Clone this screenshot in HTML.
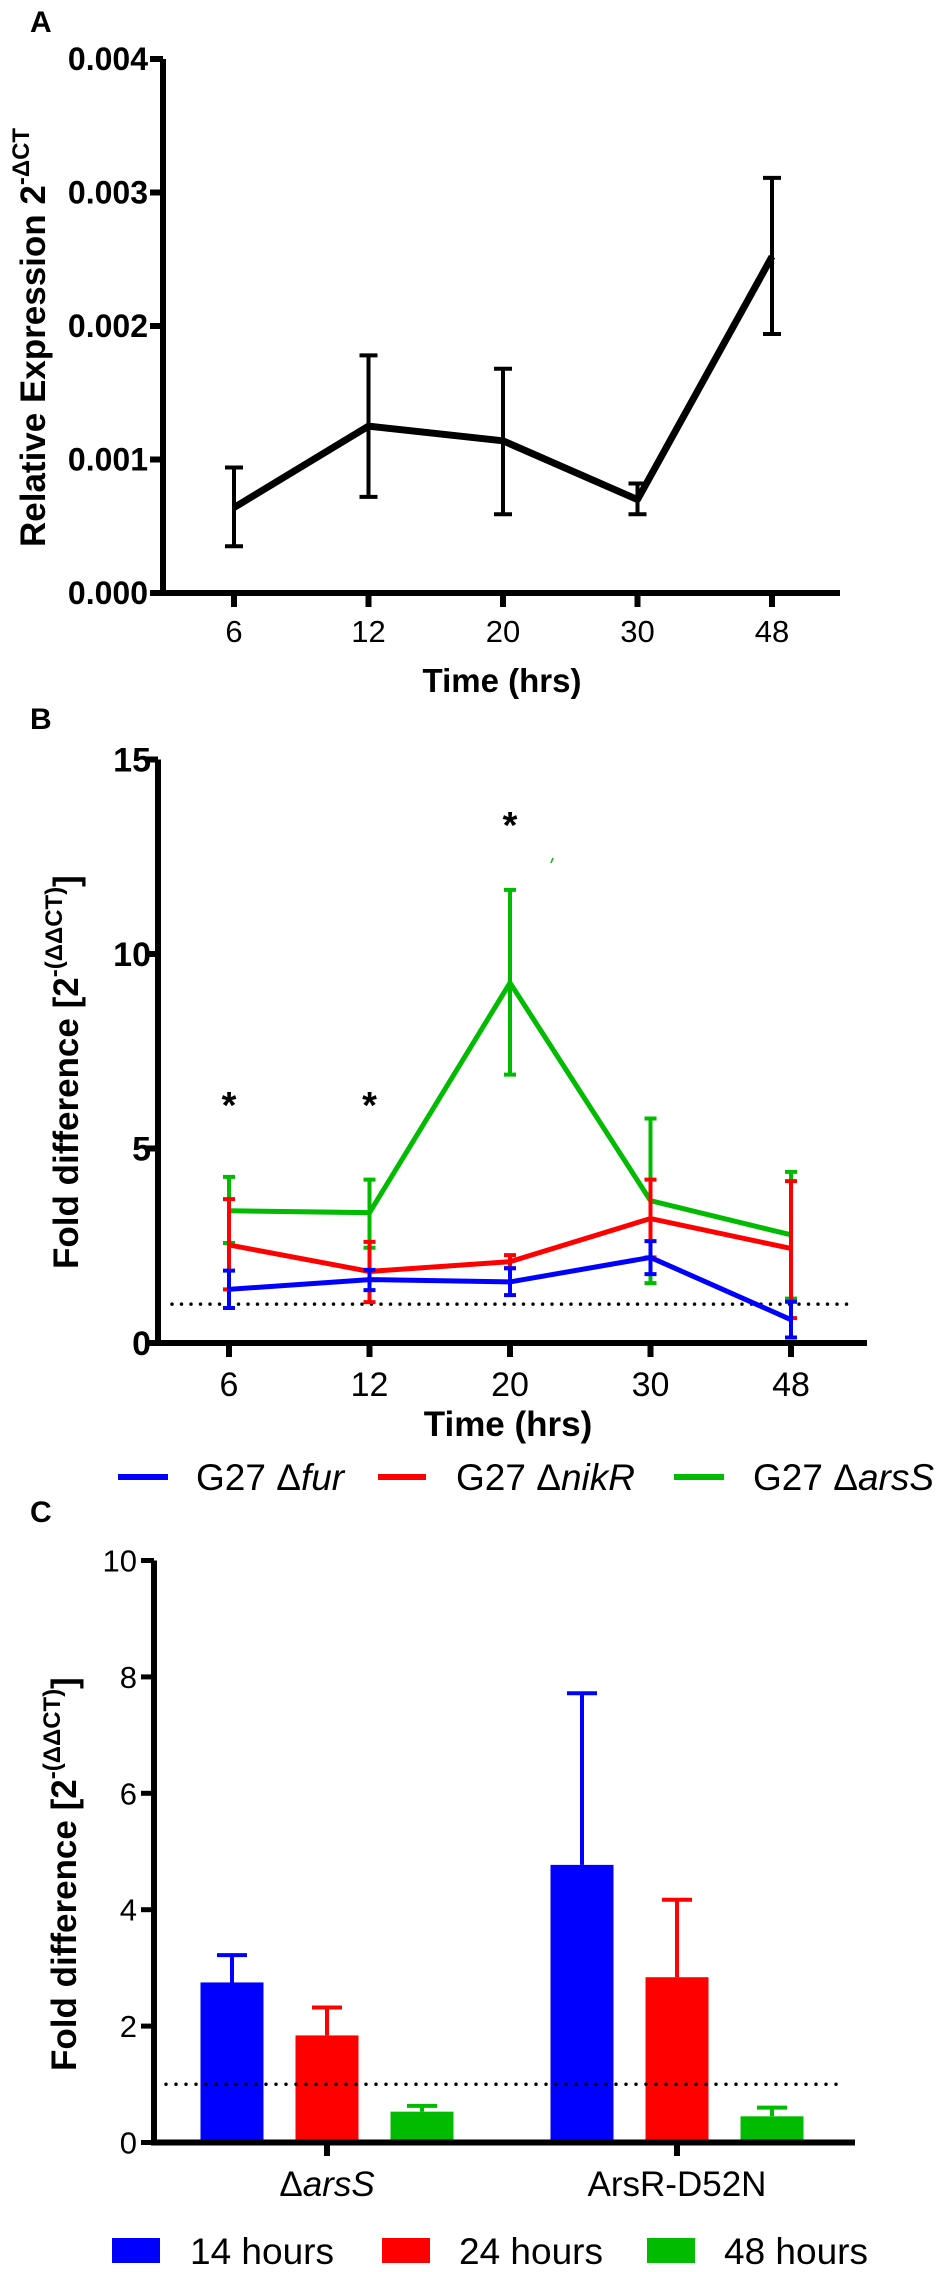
<!DOCTYPE html>
<html><head><meta charset="utf-8"><style>html,body{margin:0;padding:0;background:#fff}svg{display:block}text{font-family:"Liberation Sans",sans-serif}</style></head>
<body>
<svg id="fig" width="948" height="2272" viewBox="0 0 948 2272" xmlns="http://www.w3.org/2000/svg">
<text x="30" y="32" font-size="30" font-weight="bold">A</text>
<text transform="translate(45,547) rotate(-90)" font-size="35" font-weight="bold">Relative Expression 2<tspan font-size="24" dy="-16">-ΔCT</tspan></text>
<text x="502" y="692" font-size="33" font-weight="bold" text-anchor="middle">Time (hrs)</text>
<text x="30" y="729" font-size="30" font-weight="bold">B</text>
<text transform="translate(78,1269) rotate(-90)" font-size="35" font-weight="bold">Fold difference [2<tspan font-size="24" dy="-16">-(ΔΔCT)</tspan><tspan dy="16">]</tspan></text>
<text x="508" y="1436" font-size="35" font-weight="bold" text-anchor="middle">Time (hrs)</text>
<text x="30" y="1522" font-size="30" font-weight="bold">C</text>
<text transform="translate(76,2071) rotate(-90)" font-size="35" font-weight="bold">Fold difference [2<tspan font-size="24" dy="-16">-(ΔΔCT)</tspan><tspan dy="16">]</tspan></text>
<g>
<line x1="118" y1="1477" x2="168" y2="1477" stroke="#0000ff" stroke-width="6"/>
<text x="196" y="1490" font-size="37">G27 Δ<tspan font-style="italic">fur</tspan></text>
<line x1="378" y1="1477" x2="426" y2="1477" stroke="#ff0000" stroke-width="6"/>
<text x="456" y="1490" font-size="37">G27 Δ<tspan font-style="italic">nikR</tspan></text>
<line x1="674" y1="1477" x2="724" y2="1477" stroke="#00bb00" stroke-width="6"/>
<text x="753" y="1490" font-size="37">G27 Δ<tspan font-style="italic">arsS</tspan></text>
</g>
<g>
<rect x="112" y="2238" width="48" height="25" fill="#0000ff"/>
<text x="190" y="2264" font-size="37">14 hours</text>
<rect x="382" y="2238" width="48" height="25" fill="#ff0000"/>
<text x="459" y="2264" font-size="37">24 hours</text>
<rect x="647" y="2238" width="48" height="25" fill="#00bb00"/>
<text x="724" y="2264" font-size="37">48 hours</text>
</g>
<line x1="551" y1="863" x2="553" y2="858" stroke="#00bb00" stroke-width="1.5"/>
</svg>
<script>
// Panel A data
const aTimes = ["6","12","20","30","48"];
const aMean = [0.00064, 0.00125, 0.00114, 0.00070, 0.00252];
const aHigh = [0.00094, 0.00178, 0.00168, 0.00082, 0.00311];
const aLow  = [0.00035, 0.00072, 0.00059, 0.00059, 0.00194];
const aYTicks = ["0.000","0.001","0.002","0.003","0.004"];
// Panel B data
const bTimes = ["6","12","20","30","48"];
const bFurMean = [1.38, 1.63, 1.57, 2.2, 0.6];
const bFurHigh = [1.86, 1.88, 1.92, 2.62, 1.06];
const bFurLow  = [0.9, 1.36, 1.23, 1.77, 0.14];
const bNikMean = [2.52, 1.84, 2.09, 3.2, 2.43];
const bNikHigh = [3.7, 2.6, 2.26, 4.2, 4.16];
const bNikLow  = [1.38, 1.05, 1.92, 2.2, 0.64];
const bArsMean = [3.4, 3.35, 9.26, 3.66, 2.78];
const bArsHigh = [4.27, 4.2, 11.65, 5.77, 4.4];
const bArsLow  = [2.57, 2.45, 6.9, 1.54, 1.14];
const bYTicks = ["0","5","10","15"];
const bStarIdx = [0, 1, 2];
const bStarVal = [6.3, 6.3, 13.5];
// Panel C data
const cGroups = ["ΔarsS","ArsR-D52N"];
const c14Mean = [2.75, 4.77];
const c14Err  = [3.22, 7.72];
const c24Mean = [1.84, 2.84];
const c24Err  = [2.32, 4.17];
const c48Mean = [0.53, 0.45];
const c48Err  = [0.63, 0.60];
const cYTicks = ["0","2","4","6","8","10"];

const svg = document.getElementById('fig');
const NS = 'http://www.w3.org/2000/svg';
function mk(tag, attrs, parent){ const e=document.createElementNS(NS,tag); for(const k in attrs) e.setAttribute(k,attrs[k]); (parent||svg).appendChild(e); return e; }

// ---------- Panel A ----------
const gA = mk('g',{});


const aX = i => 234 + i*134.5;
const aY = v => 593 - v/0.001*133.5;
let ax = mk('path',{d:`M163 ${aY(0.004)} V593 H840`,stroke:'#000','stroke-width':6,fill:'none'},gA);


aYTicks.forEach((t,i)=>{ const v=parseFloat(t);
  const tk=mk('line',{x1:150,x2:163,y1:aY(v),y2:aY(v),stroke:'#000','stroke-width':6},gA);
  
  
  const tx=mk('text',{x:148,y:aY(v)+11,'font-size':32,'font-weight':'bold','text-anchor':'end'},gA); tx.textContent=t;
  
  
});
aTimes.forEach((t,i)=>{
  const tk=mk('line',{x1:aX(i),x2:aX(i),y1:593,y2:607,stroke:'#000','stroke-width':6},gA);
  
  
  const tx=mk('text',{x:aX(i),y:642,'font-size':31,'text-anchor':'middle'},gA); tx.textContent=t;
  
  
  const eb=mk('path',{d:`M${aX(i)} ${aY(aLow[i])} V${aY(aHigh[i])} M${aX(i)-9} ${aY(aHigh[i])} h18 M${aX(i)-9} ${aY(aLow[i])} h18`,stroke:'#000','stroke-width':4,fill:'none'},gA);
  
  
});
let la = mk('polyline',{points:aMean.map((v,i)=>aX(i)+','+aY(v)).join(' '),stroke:'#000','stroke-width':7,fill:'none','stroke-linejoin':'round'},gA);



// ---------- Panel B ----------
const gB = mk('g',{});


const bX = i => 229 + i*140.5;
const bY = v => 1343 - v*38.9;
let dl = mk('line',{x1:172,x2:852,y1:bY(1),y2:bY(1),stroke:'#000','stroke-width':3.5,'stroke-dasharray':'0 9.5','stroke-linecap':'round'},gB);


let bx = mk('path',{d:`M158 ${bY(15)} V1343 H867`,stroke:'#000','stroke-width':6,fill:'none'},gB);


bYTicks.forEach(t=>{ const v=parseFloat(t);
  const tk=mk('line',{x1:145,x2:158,y1:bY(v),y2:bY(v),stroke:'#000','stroke-width':6},gB);
  
  
  const tx=mk('text',{x:151,y:bY(v)+12,'font-size':34,'font-weight':'bold','text-anchor':'end'},gB); tx.textContent=t;
  
  
});
bTimes.forEach((t,i)=>{
  const tk=mk('line',{x1:bX(i),x2:bX(i),y1:1343,y2:1357,stroke:'#000','stroke-width':6},gB);
  
  
  const tx=mk('text',{x:bX(i),y:1396,'font-size':34,'text-anchor':'middle'},gB); tx.textContent=t;
  
  
});
function series(mean,hi,lo,color,name){
  const g=mk('g',{},gB);
  
  
  mean.forEach((v,i)=>{
    const eb=mk('path',{d:`M${bX(i)} ${bY(lo[i])} V${bY(hi[i])} M${bX(i)-6} ${bY(hi[i])} h12 M${bX(i)-6} ${bY(lo[i])} h12`,stroke:color,'stroke-width':4,fill:'none'},g);
    
    
  });
  const l=mk('polyline',{points:mean.map((v,i)=>bX(i)+','+bY(v)).join(' '),stroke:color,'stroke-width':5,fill:'none'},g);
  
  
}
series(bArsMean,bArsHigh,bArsLow,'#00bb00','series-arss');
series(bNikMean,bNikHigh,bNikLow,'#ff0000','series-nikr');
series(bFurMean,bFurHigh,bFurLow,'#0000ff','series-fur');
bStarIdx.forEach((idx,k)=>{
  const s=mk('text',{x:bX(idx),y:bY(bStarVal[k])+20,'font-size':38,'font-weight':'bold','text-anchor':'middle'},gB); s.textContent='*';
  
  
});

// ---------- Panel C ----------
const gC = mk('g',{});


const cY = v => 2142.5 - v*58.2;
const cGroupX = i => 327 + i*350;
const cOff = [-95, 0, 95];
const cBarW = 63;
[[c14Mean,c14Err,'#0000ff','bar-14h'],[c24Mean,c24Err,'#ff0000','bar-24h'],[c48Mean,c48Err,'#00bb00','bar-48h']].forEach((s,k)=>{
  s[0].forEach((v,i)=>{
    const cx=cGroupX(i)+cOff[k];
    const eb=mk('path',{d:`M${cx} ${cY(v)} V${cY(s[1][i])} M${cx-15} ${cY(s[1][i])} h30`,stroke:s[2],'stroke-width':4,fill:'none'},gC);
    
    
    const r=mk('rect',{x:cx-cBarW/2,y:cY(v),width:cBarW,height:cY(0)-cY(v),fill:s[2]},gC);
    
    
  });
});
let dc = mk('line',{x1:166,x2:840,y1:cY(1),y2:cY(1),stroke:'#000','stroke-width':3.5,'stroke-dasharray':'0 10','stroke-linecap':'round'},gC);


let cx2 = mk('path',{d:`M154 ${cY(10)} V2142.5 H855`,stroke:'#000','stroke-width':6,fill:'none'},gC);


cYTicks.forEach(t=>{ const v=parseFloat(t);
  const tk=mk('line',{x1:141,x2:154,y1:cY(v),y2:cY(v),stroke:'#000','stroke-width':5},gC);
  
  
  const tx=mk('text',{x:137,y:cY(v)+11,'font-size':31,'text-anchor':'end'},gC); tx.textContent=t;
  
  
});
cGroups.forEach((g,i)=>{
  const tk=mk('line',{x1:cGroupX(i),x2:cGroupX(i),y1:2142,y2:2156,stroke:'#000','stroke-width':6},gC);
  
  
  const tx=mk('text',{x:cGroupX(i),y:2196,'font-size':35,'text-anchor':'middle'},gC);
  if(g.startsWith('Δ')){ tx.textContent='Δ'; const ts=mk('tspan',{'font-style':'italic'},tx); ts.textContent=g.slice(1); }
  else tx.textContent=g;
  
  
});
</script>
</body></html>
